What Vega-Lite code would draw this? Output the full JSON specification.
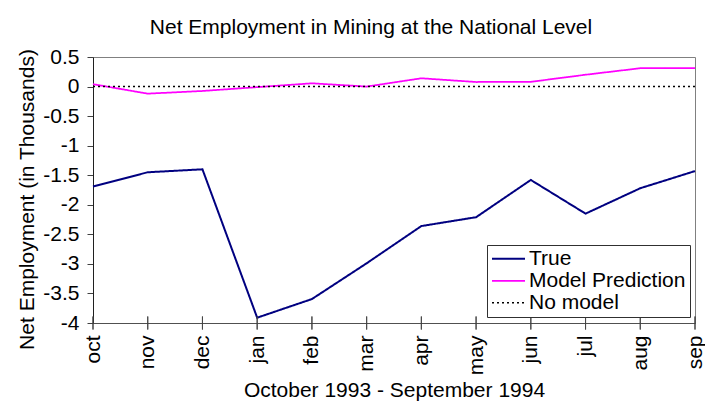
{
  "$schema": "https://vega.github.io/schema/vega-lite/v6.json",
  "width": 602,
  "height": 266,
  "autosize": {"type": "none"},
  "padding": {"left": 93, "top": 57, "right": 10, "bottom": 82},
  "background": "white",
  "title": {"text": "Net Employment in Mining at the National Level", "font": "Liberation Sans", "fontSize": 21, "fontWeight": "normal", "color": "black", "anchor": "middle", "dx": -23, "offset": 8},
  "config": {
    "view": {"stroke": "#808080", "strokeWidth": 1},
    "axis": {"labelFont": "Liberation Sans", "titleFont": "Liberation Sans", "labelFontSize": 21, "titleFontSize": 21, "titleFontWeight": "normal", "labelColor": "black", "titleColor": "black", "grid": false}
  },
  "data": {"values": [
    {"month": "oct", "series": "True", "value": -1.69},
    {"month": "nov", "series": "True", "value": -1.45},
    {"month": "dec", "series": "True", "value": -1.40},
    {"month": "jan", "series": "True", "value": -3.91},
    {"month": "feb", "series": "True", "value": -3.595},
    {"month": "mar", "series": "True", "value": -2.99},
    {"month": "apr", "series": "True", "value": -2.36},
    {"month": "may", "series": "True", "value": -2.21},
    {"month": "jun", "series": "True", "value": -1.58},
    {"month": "jul", "series": "True", "value": -2.15},
    {"month": "aug", "series": "True", "value": -1.72},
    {"month": "sep", "series": "True", "value": -1.43},
    {"month": "oct", "series": "Model Prediction", "value": 0.04},
    {"month": "nov", "series": "Model Prediction", "value": -0.12},
    {"month": "dec", "series": "Model Prediction", "value": -0.075},
    {"month": "jan", "series": "Model Prediction", "value": -0.01},
    {"month": "feb", "series": "Model Prediction", "value": 0.055},
    {"month": "mar", "series": "Model Prediction", "value": 0.0},
    {"month": "apr", "series": "Model Prediction", "value": 0.14},
    {"month": "may", "series": "Model Prediction", "value": 0.077},
    {"month": "jun", "series": "Model Prediction", "value": 0.08},
    {"month": "jul", "series": "Model Prediction", "value": 0.2},
    {"month": "aug", "series": "Model Prediction", "value": 0.31},
    {"month": "sep", "series": "Model Prediction", "value": 0.31},
    {"month": "oct", "series": "No model", "value": 0},
    {"month": "nov", "series": "No model", "value": 0},
    {"month": "dec", "series": "No model", "value": 0},
    {"month": "jan", "series": "No model", "value": 0},
    {"month": "feb", "series": "No model", "value": 0},
    {"month": "mar", "series": "No model", "value": 0},
    {"month": "apr", "series": "No model", "value": 0},
    {"month": "may", "series": "No model", "value": 0},
    {"month": "jun", "series": "No model", "value": 0},
    {"month": "jul", "series": "No model", "value": 0},
    {"month": "aug", "series": "No model", "value": 0},
    {"month": "sep", "series": "No model", "value": 0}
  ]},
  "layer": [
    {
      "mark": {"type": "line", "clip": false},
      "encoding": {
        "x": {"field": "month", "type": "ordinal", "sort": ["oct","nov","dec","jan","feb","mar","apr","may","jun","jul","aug","sep"], "scale": {"type": "point", "padding": 0},
          "axis": {"title": "October 1993 - September 1994", "labelAngle": -90, "labelPadding": 12, "labelOverlap": false, "ticks": false, "domainColor": "#505050", "titlePadding": 5}},
        "y": {"field": "value", "type": "quantitative", "scale": {"domain": [-4, 0.5], "nice": false, "zero": false},
          "axis": {"title": "Net Employment (in Thousands)", "values": [-4,-3.5,-3,-2.5,-2,-1.5,-1,-0.5,0,0.5], "labelExpr": "datum.value + ''", "labelOverlap": false, "labelFlush": false, "tickSize": 6, "tickColor": "#404040", "domainColor": "#202020", "labelPadding": 8, "titlePadding": 5, "titleY": 142}},
        "color": {"field": "series", "type": "nominal", "title": null, "scale": {"domain": ["True", "Model Prediction", "No model"], "range": ["#000080", "#ff00ff", "#000000"]}},
        "strokeDash": {"field": "series", "type": "nominal", "title": null, "scale": {"domain": ["True", "Model Prediction", "No model"], "range": [[1,0],[1,0],[2,3]]}},
        "strokeWidth": {"field": "series", "type": "nominal", "title": null, "scale": {"domain": ["True", "Model Prediction", "No model"], "range": [2, 1.5, 1]},
          "legend": {"orient": "none", "legendX": 394, "legendY": 188, "symbolType": "stroke", "symbolSize": 1089, "clipHeight": 19.5, "labelFont": "Liberation Sans", "labelFontSize": 21, "labelColor": "black", "strokeColor": "#303030", "fillColor": "white", "padding": 4, "rowPadding": 0, "labelOffset": 3, "labelLimit": 300}}
      }
    },
    {
      "mark": {"type": "tick", "orient": "vertical", "size": 13, "thickness": 1, "color": "#404040", "clip": false},
      "encoding": {
        "x": {"field": "month", "type": "ordinal", "sort": ["oct","nov","dec","jan","feb","mar","apr","may","jun","jul","aug","sep"],
          "axis": {"title": "October 1993 - September 1994", "labelAngle": -90, "labelPadding": 12, "labelOverlap": false, "ticks": false, "domainColor": "#505050", "titlePadding": 5}},
        "y": {"datum": -4,
          "axis": {"title": "Net Employment (in Thousands)", "values": [-4,-3.5,-3,-2.5,-2,-1.5,-1,-0.5,0,0.5], "labelExpr": "datum.value + ''", "labelOverlap": false, "labelFlush": false, "tickSize": 6, "tickColor": "#404040", "domainColor": "#202020", "labelPadding": 8, "titlePadding": 5, "titleY": 142}}
      }
    }
  ]
}
